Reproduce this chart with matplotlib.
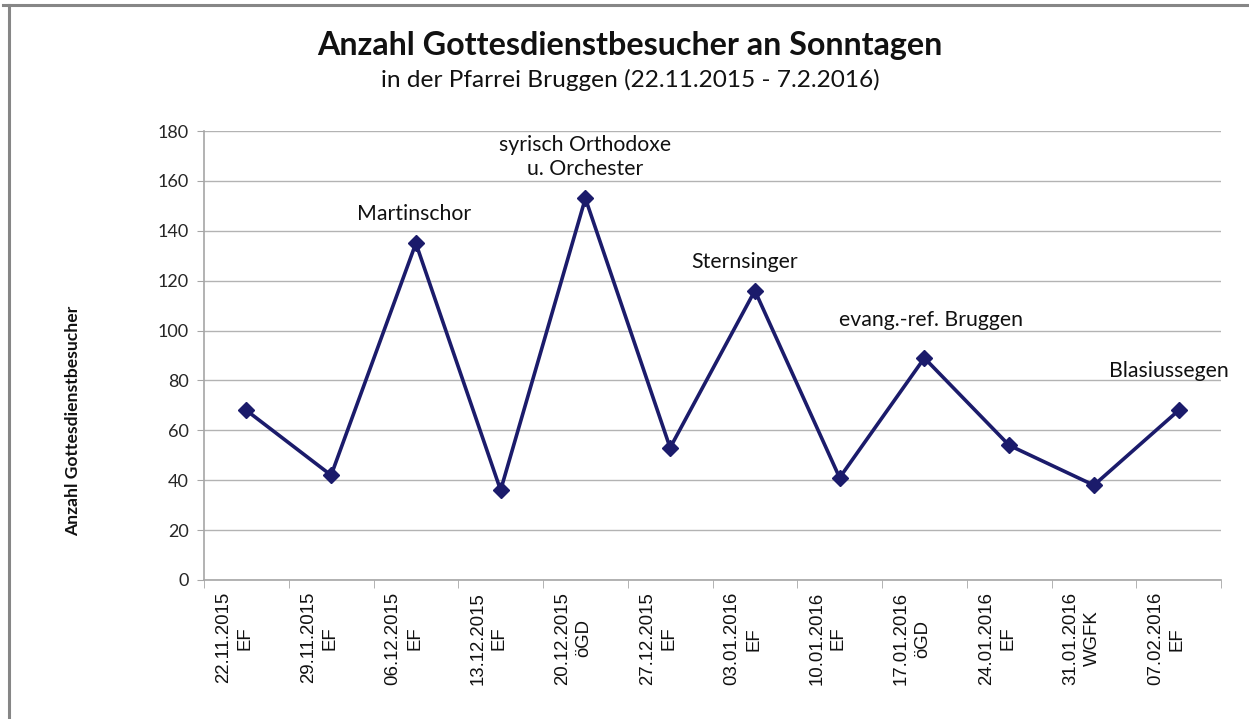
import matplotlib.pyplot as plt
from matplotlib.lines import Line2D
from matplotlib.transforms import ScaledTranslation
import numpy as np

# Sonntage mit Gottesdienstform
dates = ["22.11.2015", "29.11.2015", "06.12.2015", "13.12.2015",
         "20.12.2015", "27.12.2015", "03.01.2016", "10.01.2016",
         "17.01.2016", "24.01.2016", "31.01.2016", "07.02.2016"]
kinds = ["EF", "EF", "EF", "EF", "öGD", "EF", "EF", "EF", "öGD", "EF", "WGFK", "EF"]
visitors = [68, 42, 135, 36, 153, 53, 116, 41, 89, 54, 38, 68]

# Beschriftungen besonderer Gottesdienste (Index -> Text)
notes_idx = [2, 4, 6, 8, 11]
notes_txt = ["Martinschor", "syrisch Orthodoxe\nu. Orchester", "Sternsinger",
             "evang.-ref. Bruggen", "Blasiussegen"]
# Versatz der Beschriftung in Pixel (dx, dy)
notes_off = [(-2, 29), (0, 41), (-10, 29), (7, 38), (-10, 39)]

plt.rcParams["font.family"] = ["Lato", "DejaVu Sans"]

W, H = 1249, 719
fig = plt.figure(figsize=(W / 100, H / 100), dpi=100)

# Rahmen des Diagrammbereichs (nur oben und links sichtbar)
fig.add_artist(Line2D([3 / W, 1], [1 - 4.5 / H, 1 - 4.5 / H], color="#868686", lw=2.2))
fig.add_artist(Line2D([8.5 / W, 8.5 / W], [0, 1 - 4.5 / H], color="#868686", lw=2.2))

ax = fig.add_axes([204 / W, (H - 580) / H, (1221 - 204) / W, (580 - 131) / H])

x = np.arange(len(visitors))
ax.plot(x, visitors, color="#1B1B6B", lw=2.6, marker="D", markersize=8.5,
        clip_on=False, zorder=3)

ax.set_xlim(-0.5, len(visitors) - 0.5)
ax.set_ylim(0, 180)
ax.set_yticks(np.arange(0, 181, 20))
ax.grid(axis="y", color="#B3B3B3", lw=1)
ax.set_axisbelow(True)

# Kategorie-Beschriftungen wie in Excel leicht links vom Punkt
ax.set_xticks(x)
ax.set_xticklabels([])
lab_tr = ax.get_xaxis_transform() + ScaledTranslation(-12 / 100, -12 / 100,
                                                      fig.dpi_scale_trans)
for xi, d, k in zip(x, dates, kinds):
    ax.text(xi, 0, f"{d}\n{k}", transform=lab_tr, rotation=90,
            family="Liberation Sans", fontsize=13.4, ha="center", va="top",
            multialignment="center", linespacing=1.35, color="#111111")
ax.set_xticks(np.arange(-0.5, len(visitors), 1), minor=True)
ax.tick_params(axis="x", which="major", length=0)
ax.tick_params(axis="x", which="minor", length=6, color="#A6A6A6", direction="out")
ax.tick_params(axis="y", length=5, color="#A6A6A6", labelsize=13, pad=6,
               labelcolor="#262626")

for side in ["top", "right"]:
    ax.spines[side].set_visible(False)
for side in ["left", "bottom"]:
    ax.spines[side].set_color("#A6A6A6")
    ax.spines[side].set_linewidth(1.2)

for i, txt, (dx, dy) in zip(notes_idx, notes_txt, notes_off):
    ax.annotate(txt, (x[i], visitors[i]), xytext=(dx, dy),
                textcoords="offset pixels", ha="center", va="center",
                fontsize=15.3, color="#111111", linespacing=1.25,
                annotation_clip=False)

fig.text(630 / W, 1 - 45 / H, "Anzahl Gottesdienstbesucher an Sonntagen",
         ha="center", va="center", fontsize=23.2, fontweight="bold", color="#111111")
fig.text(630 / W, 1 - 80 / H, "in der Pfarrei Bruggen (22.11.2015 - 7.2.2016)",
         ha="center", va="center", fontsize=17.6, color="#111111")
fig.text(73 / W, 1 - 421 / H, "Anzahl Gottesdienstbesucher", rotation=90,
         ha="center", va="center", fontsize=12.6, fontweight="bold", color="#111111")

fig.savefig("out.png", dpi=100, facecolor="white")
